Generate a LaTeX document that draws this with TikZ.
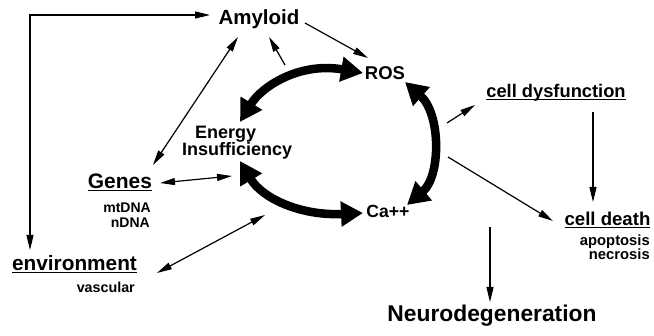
\documentclass[tikz,border=0pt]{standalone}
\usepackage{fontspec}
\setmainfont{Liberation Sans}
\usetikzlibrary{arrows.meta}
\newcommand{\fs}[1]{\fontsize{#1}{#1}\selectfont}
\newcommand{\ulx}[1]{\underline{\smash{#1}}}
\begin{document}
\begin{tikzpicture}[x=1pt,y=-1pt,
  lbl/.style={font=\bfseries, inner sep=0pt, anchor=base},
  lblr/.style={font=\bfseries, inner sep=0pt, anchor=base east},
  thinarr/.style={line width=1.2pt, -{Triangle[length=15pt,width=7pt]}},
  botharr/.style={line width=1.2pt, {Triangle[length=15pt,width=7pt]}-{Triangle[length=15pt,width=7pt]}},
  bigarr/.style={line width=8.5pt, {Triangle[length=22pt,width=24pt]}-{Triangle[length=22pt,width=24pt]}}]
\useasboundingbox (0,0) rectangle (654,336);

% labels
\node[lbl] (amyloid) at (259,25) {\fs{20.5}Amyloid};
\node[lbl] (ros) at (385,80) {\fs{18.5}ROS};
\node[lbl] (celldys) at (556,98) {\fs{18.3}\ulx{cell dysfunction}};
\node[font=\bfseries\fontsize{18}{16}\selectfont, inner sep=0pt, anchor=north west, align=left] (energy) at (182,125.5)
  {\hspace*{13pt}Energy\\Insufficiency};
\node[lbl] (genes) at (120,189) {\fs{21}\ulx{Genes}};
\node[lblr] (mtdna) at (151,213) {\fs{14}mtDNA};
\node[lblr] (ndna) at (150,228) {\fs{14}nDNA};
\node[lbl] (env) at (74.5,271) {\fs{20.8}\ulx{environment}};
\node[lblr] (vasc) at (135,293) {\fs{14.3}vascular};
\node[lbl] (ca) at (388,218) {\fs{17.6}Ca++};
\node[lbl] (celldeath) at (607.5,226) {\fs{18.6}\ulx{cell death}};
\node[lblr] (apop) at (650,246) {\fs{14.8}apoptosis};
\node[lblr] (necr) at (650,260) {\fs{14.8}necrosis};
\node[lbl] (neuro) at (492,322) {\fs{22.8}Neurodegeneration};

% connector end points
\coordinate (amyW) at (210,15);
\coordinate (corner) at (30,15);
\coordinate (envN) at (30,250);
\coordinate (amyS) at (238,37);
\coordinate (genesNE) at (153,165);
\coordinate (arcTop) at (285,65);
\coordinate (amySE) at (269,37);
\coordinate (amyE) at (305,23);
\coordinate (rosNW) at (368,58);
\coordinate (cycR1) at (447,123);
\coordinate (celldysW) at (475,105);
\coordinate (cycR2) at (448,157);
\coordinate (celldeathW) at (553,221);
\coordinate (celldysS) at (593,112);
\coordinate (celldeathN) at (593,202);
\coordinate (cycB) at (490,227);
\coordinate (neuroN) at (490,302);
\coordinate (genesE) at (160,183);
\coordinate (energyW) at (232,176);
\coordinate (envE) at (157,273);
\coordinate (cycSW) at (265,215);
\coordinate (eTop) at (240,122);
\coordinate (eBot) at (240,161);
\coordinate (rosW) at (363,73);
\coordinate (caW) at (363,213);
\coordinate (rosS) at (405,82);
\coordinate (caN) at (407,205);

% thin connectors
\draw[botharr] (amyW) -- (corner) -- (envN);
\draw[botharr] (amyS) -- (genesNE);
\draw[thinarr] (arcTop) -- (amySE);
\draw[thinarr] (amyE) -- (rosNW);
\draw[thinarr] (cycR1) -- (celldysW);
\draw[thinarr] (cycR2) -- (celldeathW);
\draw[thinarr] (celldysS) -- (celldeathN);
\draw[thinarr] (cycB) -- (neuroN);
\draw[botharr] (genesE) -- (energyW);
\draw[botharr] (envE) -- (cycSW);

% thick cycle
\draw[bigarr] (eTop) .. controls (262,86) and (300,62) .. (rosW);
\draw[bigarr] (eBot) .. controls (262,198) and (300,216) .. (caW);
\draw[bigarr] (rosS) .. controls (441,114) and (441,176) .. (caN);
\end{tikzpicture}
\end{document}
